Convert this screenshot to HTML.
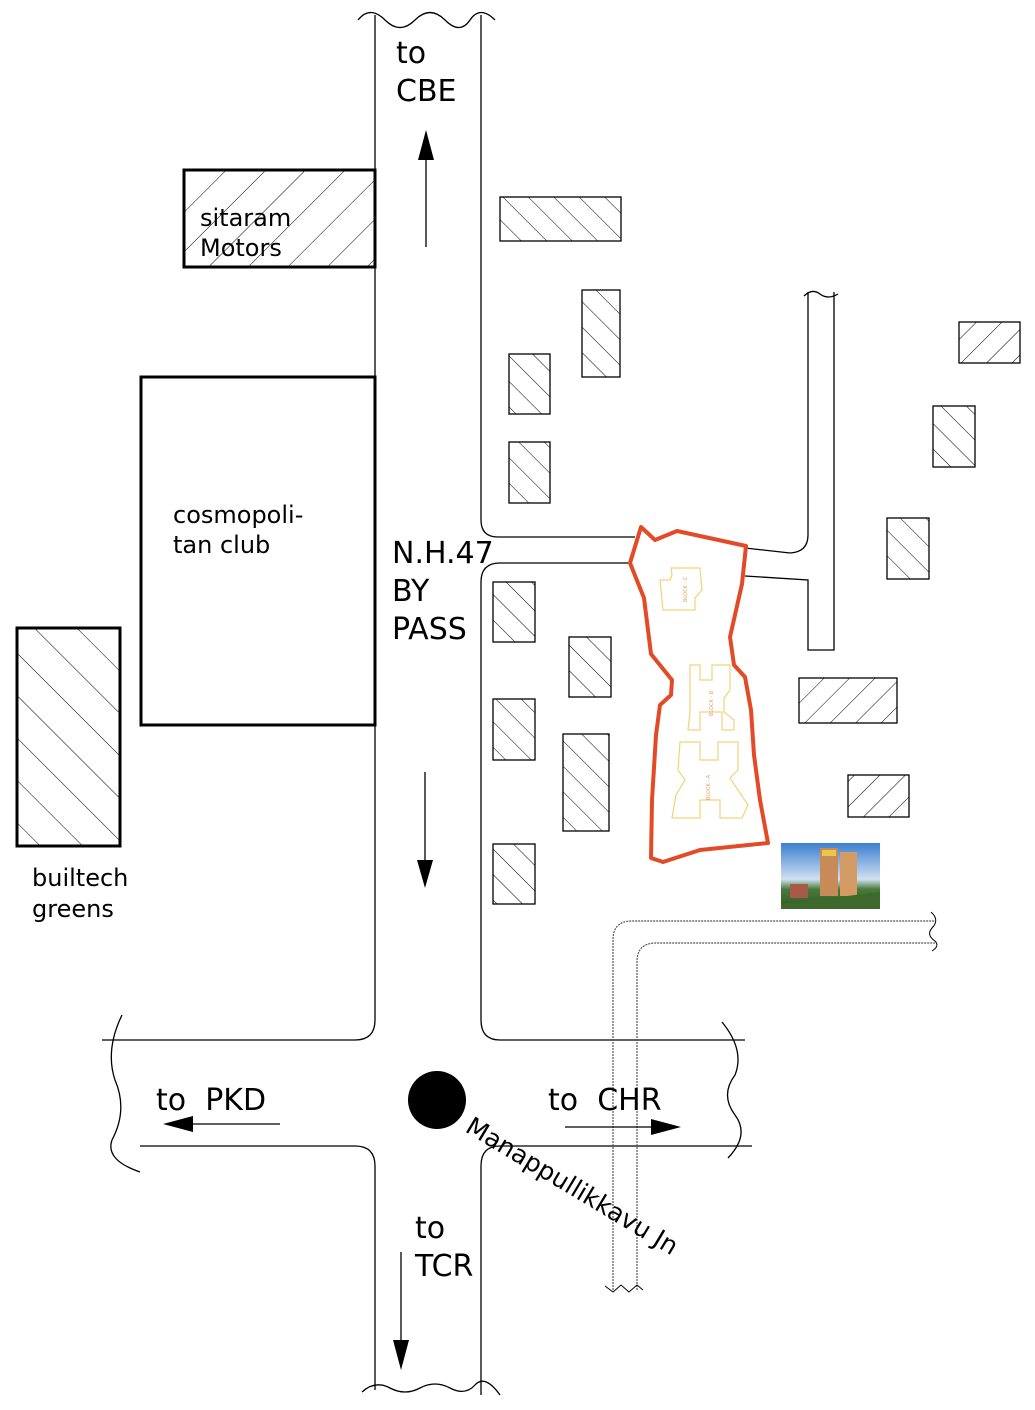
<!DOCTYPE html>
<html><head><meta charset="utf-8"><style>
html,body{margin:0;padding:0;background:#fff}
svg{display:block}
text{font-family:"DejaVu Sans","Liberation Sans",sans-serif;fill:#000}
</style></head><body>
<svg width="1035" height="1410" viewBox="0 0 1035 1410" xmlns="http://www.w3.org/2000/svg">
<defs>
<pattern id="hb" patternUnits="userSpaceOnUse" width="18" height="18" patternTransform="rotate(-45)"><line x1="0" y1="0" x2="0" y2="18" stroke="#000" stroke-width="1"/></pattern>
<pattern id="hf" patternUnits="userSpaceOnUse" width="18" height="18" patternTransform="rotate(45)"><line x1="0" y1="0" x2="0" y2="18" stroke="#000" stroke-width="1"/></pattern>
<pattern id="hbl" patternUnits="userSpaceOnUse" width="30" height="30" patternTransform="rotate(-45)"><line x1="0" y1="0" x2="0" y2="30" stroke="#000" stroke-width="1"/></pattern>
<pattern id="hfl" patternUnits="userSpaceOnUse" width="28" height="28" patternTransform="rotate(45)"><line x1="0" y1="0" x2="0" y2="28" stroke="#000" stroke-width="1"/></pattern>
<linearGradient id="sky" x1="0" y1="0" x2="0" y2="1"><stop offset="0" stop-color="#3a7fd0"/><stop offset="0.55" stop-color="#cfe0f0"/><stop offset="0.7" stop-color="#4a7a3a"/><stop offset="1" stop-color="#2e5a22"/></linearGradient>
</defs>
<g fill="none" stroke="#000" stroke-width="1.3">
<path d="M375,15 V1020 Q375,1040 355,1040 H102"/>
<path d="M481,15 V520 Q481,537 498,537 H635"/>
<path d="M635,563 H500 Q481,563 481,582 V1020 Q481,1040 500,1040 H745"/>
<path d="M140,1146 H355 Q375,1146 375,1166 V1390"/>
<path d="M752,1146 H500 Q481,1146 481,1166 V1395"/>
<path d="M358,20 Q370,5 385,20 T415,20 T445,20 T470,20 T495,20"/>
<path d="M362,1392 Q375,1380 390,1388 T420,1388 T450,1388 T475,1385 T500,1395"/>
<path d="M122,1015 Q105,1050 115,1080 Q128,1110 112,1140 Q105,1160 140,1172"/>
<path d="M722,1022 Q745,1050 735,1075 Q720,1095 735,1115 Q750,1135 728,1158"/>
<path d="M745,548 L790,553 Q808,552 808,535 V292"/>
<path d="M834,292 V650 H808 V580 L745,576"/>
<path d="M804,296 Q812,288 820,294 T838,294"/>
</g>
<g fill="none" stroke="#555" stroke-width="1.2" stroke-dasharray="2,1">
<path d="M613,1290 V940 Q613,921 632,921 H935"/>
<path d="M637,1290 V962 Q637,943 656,943 H935"/>
</g>
<path d="M931,912 Q940,920 932,928 Q926,935 935,941 Q940,946 932,951" fill="none" stroke="#000"/>
<path d="M605,1286 L613,1292 L621,1285 L629,1292 L637,1285 L643,1290" fill="none" stroke="#000"/>
<rect x="184" y="170" width="191" height="97" fill="url(#hfl)" stroke="#000" stroke-width="3"/>
<rect x="141" y="377" width="234" height="348" fill="#fff" stroke="#000" stroke-width="3"/>
<rect x="17" y="628" width="103" height="218" fill="url(#hbl)" stroke="#000" stroke-width="3"/>
<g stroke="#000" stroke-width="1.3" fill="url(#hb)">
<rect x="500" y="197" width="121" height="44"/>
<rect x="582" y="290" width="38" height="87"/>
<rect x="509" y="354" width="41" height="60"/>
<rect x="509" y="442" width="41" height="61"/>
<rect x="493" y="582" width="42" height="60"/>
<rect x="569" y="637" width="42" height="60"/>
<rect x="493" y="699" width="42" height="61"/>
<rect x="563" y="734" width="46" height="97"/>
<rect x="493" y="844" width="42" height="60"/>
<rect x="933" y="406" width="42" height="61"/>
<rect x="887" y="518" width="42" height="61"/>
</g>
<g stroke="#000" stroke-width="1.3" fill="url(#hf)">
<rect x="959" y="322" width="61" height="41"/>
<rect x="799" y="678" width="98" height="45"/>
<rect x="848" y="775" width="61" height="42"/>
</g>
<polygon points="641,527 655,540 677,531 746,546 742,584 730,637 734,665 745,677 751,710 754,755 760,800 768,843 700,850 663,862 651,858 652,800 656,735 660,705 671,695 672,680 651,654 644,598 630,563" fill="#fff" stroke="#e34a26" stroke-width="4" stroke-linejoin="round"/>
<g fill="none" stroke="#f3d27a" stroke-width="1.2">
<path d="M671,568 H700 L702,590 L695,598 V610 H663 L660,580 H670 L672,575 Z"/>
<path d="M690,665 H700 V680 H712 V665 H730 V690 L724,698 V712 L734,720 V730 H722 V712 H700 V730 H688 L690,712 Z"/>
<path d="M680,742 H700 V760 H718 V742 H738 V770 L730,778 L748,805 L742,818 H720 V800 H700 V818 H672 L676,795 L685,780 L678,770 Z"/>
</g>
<g font-size="5"><text x="0" y="0" transform="translate(687,602) rotate(-90)" style="fill:#e9a060">BLOCK - C</text>
<text x="0" y="0" transform="translate(713,716) rotate(-90)" style="fill:#e9a060">BLOCK - B</text>
<text x="0" y="0" transform="translate(710,800) rotate(-90)" style="fill:#e9a060">BLOCK - A</text></g>
<rect x="781" y="843" width="99" height="66" fill="url(#sky)"/>
<rect x="820" y="848" width="18" height="48" fill="#c98a5a"/>
<rect x="840" y="852" width="17" height="44" fill="#d49a64"/>
<rect x="822" y="850" width="14" height="6" fill="#e8c84a"/>
<rect x="790" y="884" width="18" height="14" fill="#a85a4a"/>
<polygon points="781,904 880,892 880,909 781,909" fill="#3d6a2c"/>
<g stroke="#000" stroke-width="1.3">
<line x1="426" y1="247" x2="426" y2="150"/>
<line x1="425" y1="772" x2="425" y2="870"/>
<line x1="280" y1="1124" x2="185" y2="1124"/>
<line x1="565" y1="1127" x2="660" y2="1127"/>
<line x1="401" y1="1252" x2="401" y2="1350"/>
</g>
<polygon points="426,130 418,160 434,160"/>
<polygon points="425,888 417,860 433,860"/>
<polygon points="163,1124 193,1116 193,1132"/>
<polygon points="681,1127 651,1119 651,1135"/>
<polygon points="401,1370 393,1340 409,1340"/>
<circle cx="437" cy="1100" r="29" fill="#000"/>
<text x="396" y="63" font-size="30">to</text>
<text x="396" y="101" font-size="30">CBE</text>
<text x="200" y="226" font-size="24">sitaram</text>
<text x="200" y="256" font-size="24">Motors</text>
<text x="173" y="523" font-size="24">cosmopoli-</text>
<text x="173" y="553" font-size="24">tan club</text>
<text x="392" y="563" font-size="30">N.H.47</text>
<text x="392" y="601" font-size="30">BY</text>
<text x="392" y="639" font-size="30">PASS</text>
<text x="32" y="886" font-size="24">builtech</text>
<text x="32" y="917" font-size="24">greens</text>
<text x="156" y="1110" font-size="30" xml:space="preserve">to  PKD</text>
<text x="548" y="1110" font-size="30" xml:space="preserve">to  CHR</text>
<text x="415" y="1238" font-size="30">to</text>
<text x="415" y="1276" font-size="30">TCR</text>
<text x="0" y="0" font-size="25" transform="translate(464,1131) rotate(31)">Manappullikkavu Jn</text>
</svg>
</body></html>
